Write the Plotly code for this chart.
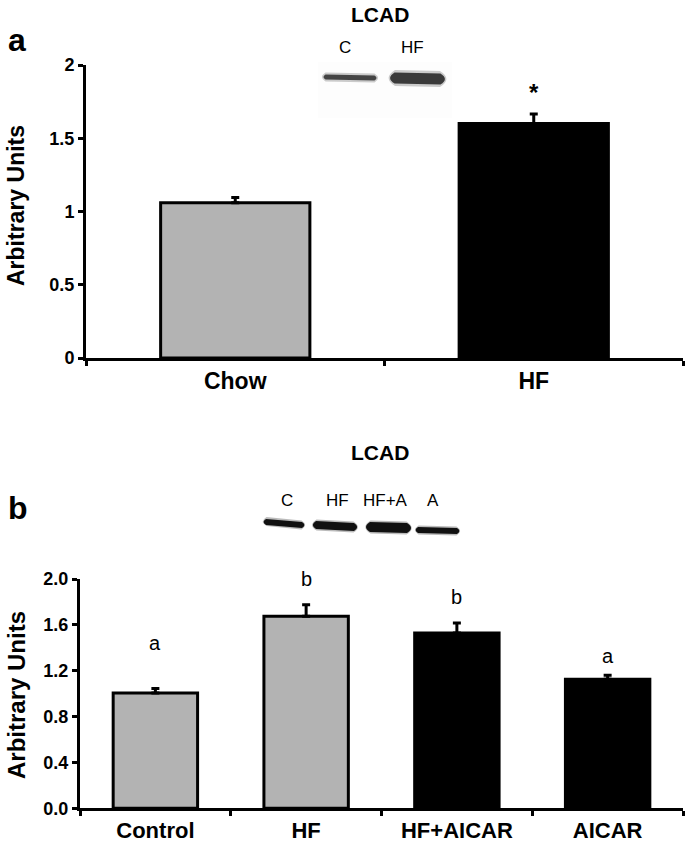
import plotly.graph_objects as go

W, H = 685, 854

# ---------------- data ----------------
top_categories = ["Chow", "HF"]
top_values = [1.06, 1.60]
top_errors = [0.035, 0.065]
top_colors = ["#b3b3b3", "#000000"]
top_yticks = [0, 0.5, 1, 1.5, 2]
top_yticklabels = ["0", "0.5", "1", "1.5", "2"]

bot_categories = ["Control", "HF", "HF+AICAR", "AICAR"]
bot_values = [1.005, 1.675, 1.53, 1.125]
bot_errors = [0.04, 0.10, 0.087, 0.035]
bot_colors = ["#b3b3b3", "#b3b3b3", "#000000", "#000000"]
bot_letters = ["a", "b", "b", "a"]
bot_yticks = [0.0, 0.4, 0.8, 1.2, 1.6, 2.0]

# pixel gap between error-bar top and the significance letter centre
bot_letter_gap = [45, 26, 26, 19]

# western blot decoration (lane labels of the scanned inset)
blot_a_lanes = ["C", "HF"]
blot_b_lanes = ["C", "HF", "HF+A", "A"]

FONT = "Liberation Sans"


def px(x):
    return x / W


def py(y):
    return 1 - y / H


fig = go.Figure()

# top panel bars
fig.add_trace(go.Bar(
    x=top_categories, y=top_values, width=0.5,
    marker=dict(color=top_colors, line=dict(color="black", width=3)),
    error_y=dict(type="data", array=top_errors, arrayminus=[0] * len(top_errors),
                 symmetric=False, thickness=3, width=4, color="black"),
    xaxis="x", yaxis="y", showlegend=False, hoverinfo="skip",
))

# bottom panel bars
fig.add_trace(go.Bar(
    x=bot_categories, y=bot_values, width=0.56,
    marker=dict(color=bot_colors, line=dict(color="black", width=3)),
    error_y=dict(type="data", array=bot_errors, arrayminus=[0] * len(bot_errors),
                 symmetric=False, thickness=3, width=4, color="black"),
    xaxis="x2", yaxis="y2", showlegend=False, hoverinfo="skip",
))

axis_common = dict(showline=True, linecolor="black", linewidth=3, ticks="outside",
                   tickcolor="black", tickwidth=3, ticklen=5, showgrid=False,
                   zeroline=False, fixedrange=True, automargin=False)

fig.update_layout(
    width=W, height=H,
    margin=dict(l=0, r=0, t=0, b=0, autoexpand=False),
    paper_bgcolor="white", plot_bgcolor="white",
    font=dict(family=FONT, color="black"),
    xaxis=dict(domain=[px(86), px(683)], anchor="y", type="category",
               tickson="boundaries", tickfont=dict(size=23, family=FONT, weight="bold"),
               **axis_common),
    yaxis=dict(domain=[py(358), py(65)], anchor="x", range=[0, 2],
               tickvals=top_yticks, ticktext=top_yticklabels,
               tickfont=dict(size=18, family=FONT, weight="bold"), **axis_common),
    xaxis2=dict(domain=[px(80), px(683)], anchor="y2", type="category",
                tickson="boundaries", tickfont=dict(size=22, family=FONT, weight="bold"),
                **axis_common),
    yaxis2=dict(domain=[py(808.3), py(579)], anchor="x2", range=[0, 2],
                tickvals=bot_yticks, tickformat=".1f",
                tickfont=dict(size=18, family=FONT, weight="bold"), **axis_common),
)


def pann(text, x, y, size, angle=0):
    return dict(text=text, x=px(x), y=py(y), xref="paper", yref="paper",
                xanchor="center", yanchor="middle", textangle=angle,
                showarrow=False, font=dict(size=size, family=FONT))


ann = []
# axis titles
ann.append(pann("<b>Arbitrary Units</b>", 16, 206, 23, -90))
ann.append(pann("<b>Arbitrary Units</b>", 16, 695, 24, -90))
# panel letters
ann.append(pann("<b>a</b>", 17, 40, 32))
ann.append(pann("<b>b</b>", 18, 508, 32))
# blot titles
ann.append(pann("<b>LCAD</b>", 380, 14, 21))
ann.append(pann("<b>LCAD</b>", 380, 452, 21))
# blot lane labels
for lab, xx in zip(blot_a_lanes, [345, 412]):
    ann.append(pann(lab, xx, 48, 17))
for lab, xx in zip(blot_b_lanes, [287, 337, 385, 433]):
    ann.append(pann(lab, xx, 500, 17))
# asterisk
ann.append(dict(text="<b>*</b>", x=top_categories[1], y=top_values[1] + top_errors[1],
                xref="x", yref="y", xanchor="center", yanchor="bottom", yshift=6,
                showarrow=False, font=dict(size=24, family=FONT)))
# significance letters
for cat, letter, v, e, gap in zip(bot_categories, bot_letters, bot_values, bot_errors,
                                  bot_letter_gap):
    ann.append(dict(text=letter, x=cat, y=v + e, yshift=gap, xref="x2", yref="y2",
                    xanchor="center", yanchor="middle",
                    showarrow=False, font=dict(size=20, family=FONT)))
fig.update_layout(annotations=ann)


def band(x0, x1, yc0, yc1, th, color, opacity=1.0):
    """rounded blot band from x0 to x1, centre y from yc0 to yc1, thickness th (pixels)"""
    r = th / 2
    path = (f"M {px(x0 + r)},{py(yc0 - r)} L {px(x1 - r)},{py(yc1 - r)} "
            f"Q {px(x1 + r * 0.6)},{py(yc1)} {px(x1 - r)},{py(yc1 + r)} "
            f"L {px(x0 + r)},{py(yc0 + r)} "
            f"Q {px(x0 - r * 0.6)},{py(yc0)} {px(x0 + r)},{py(yc0 - r)} Z")
    return dict(type="path", path=path, xref="paper", yref="paper",
                fillcolor=color, line=dict(width=0), opacity=opacity, layer="above")


shapes = []
# faint blot background (top)
shapes.append(dict(type="rect", x0=px(318), x1=px(452), y0=py(118), y1=py(62),
                   xref="paper", yref="paper", fillcolor="#fdfdfd", line=dict(width=0),
                   layer="below"))
# top blot bands
shapes.append(band(321, 379, 77, 78, 9, "#9a9a9a", 0.5))
shapes.append(band(323, 377, 77, 78, 5, "#444444"))
shapes.append(band(387, 448, 78, 79, 16, "#9a9a9a", 0.5))
shapes.append(band(389, 446, 78, 79, 11, "#3a3a3a"))
# bottom blot bands
shapes.append(band(262, 306, 521.5, 525, 9, "#777777", 0.5))
shapes.append(band(263, 305, 522, 525, 6, "#111111"))
shapes.append(band(311, 359, 525, 527, 11, "#777777", 0.5))
shapes.append(band(312, 358, 525, 527, 8, "#111111"))
shapes.append(band(364, 413, 527, 528, 13, "#777777", 0.5))
shapes.append(band(365, 412, 527, 528, 10, "#111111"))
shapes.append(band(414, 461, 530, 531, 9, "#777777", 0.5))
shapes.append(band(415, 460, 530, 531, 6, "#111111"))
fig.update_layout(shapes=shapes)

# remove the browser's default 8px body margin so the figure fills the window exactly
fig.write_html("out.html", config={"displayModeBar": False},
               post_script="document.body.style.margin='0';")
